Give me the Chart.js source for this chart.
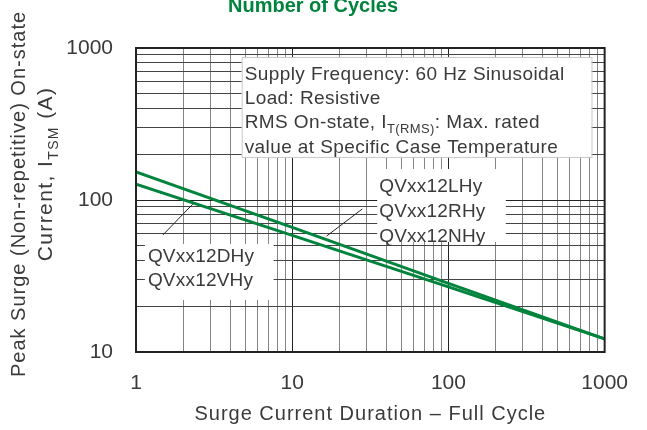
<!DOCTYPE html>
<html>
<head>
<meta charset="utf-8">
<script src="https://cdn.jsdelivr.net/npm/chart.js@4.4.1/dist/chart.umd.min.js"></script>
<style>
  html, body { margin: 0; padding: 0; background: #fff; }
  #wrap { width: 647px; height: 430px; }
</style>
</head>
<body>
<div id="wrap"><canvas id="surgeChart" width="647" height="430"></canvas></div>
<script>
// Data (log-log, straight lines)
const cycles = [1, 10, 100, 1000];
const currentLRN = [153, 66, 28.3, 12.2];   // QVxx12LHy / RHy / NHy
const currentDV = [127, 58.5, 26.8, 12.2];  // QVxx12DHy / VHy
const xTickLabels = ['1', '10', '100', '1000'];
const yTickLabels = ['10', '100', '1000'];

const GREEN = '#00843d';
const TEXT = '#3a3a3a';
const FONT = '"Liberation Sans", Arial, sans-serif';

// 1..9 per decade for the grid
function logTicks(min, max) {
    const out = [];
    for (let d = min; d < max; d *= 10) {
        for (let k = 1; k < 10; k++) out.push(d * k);
    }
    out.push(max);
    return out;
}

// draw text with subscript parts: [[text, isSub], ...]
function richText(ctx, parts, x, y, size, align, spacing) {
    const subSize = Math.round(size * 0.68);
    ctx.letterSpacing = (spacing || 0) + 'px';
    let total = 0;
    parts.forEach(p => {
        ctx.font = (p[1] ? subSize : size) + 'px ' + FONT;
        total += ctx.measureText(p[0]).width;
    });
    let cx = align === 'center' ? x - total / 2 : x;
    ctx.textAlign = 'left';
    ctx.textBaseline = 'alphabetic';
    parts.forEach(p => {
        ctx.font = (p[1] ? subSize : size) + 'px ' + FONT;
        ctx.fillText(p[0], cx, p[1] ? y + size * 0.28 : y);
        cx += ctx.measureText(p[0]).width;
    });
    ctx.letterSpacing = '0px';
}

const overlay = {
    id: 'overlay',
    beforeDatasetsDraw(chart) {
        const ctx = chart.ctx;
        const xs = chart.scales.x, ys = chart.scales.y;
        const px = v => xs.getPixelForValue(v);
        const py = v => ys.getPixelForValue(v);
        ctx.save();

        // conditions box
        let l = px(4.75), r = px(824), t = py(873), b = py(192);
        ctx.fillStyle = '#fff';
        ctx.fillRect(l, t, r - l, b - t);
        ctx.strokeStyle = '#c8c8c8';
        ctx.lineWidth = 1;
        ctx.strokeRect(l + 0.5, t + 0.5, r - l, b - t);
        ctx.fillStyle = TEXT;
        richText(ctx, [['Supply Frequency: 60 Hz Sinusoidal', false]], l + 3, t + 23, 19, 'left', 0.4);
        richText(ctx, [['Load: Resistive', false]], l + 3, t + 47, 19, 'left', 0.4);
        richText(ctx, [['RMS On-state, I', false], ['T(RMS)', true], [': Max. rated', false]], l + 3, t + 71, 19, 'left', 0.4);
        richText(ctx, [['value at Specific Case Temperature', false]], l + 3, t + 96, 19, 'left', 0.4);

        // part number labels
        l = px(35); r = px(233); t = py(160); b = py(52.9);
        ctx.fillStyle = '#fff';
        ctx.fillRect(l, t, r - l, b - t);
        ctx.fillStyle = TEXT;
        ['QVxx12LHy', 'QVxx12RHy', 'QVxx12NHy'].forEach((s, i) => {
            richText(ctx, [[s, false]], l + 2, t + 23 + i * 25, 19, 'left', 0.2);
        });

        l = px(1.14); r = px(7.6); t = py(51.4); b = py(22);
        ctx.fillStyle = '#fff';
        ctx.fillRect(l, t, r - l, b - t);
        ctx.fillStyle = TEXT;
        ['QVxx12DHy', 'QVxx12VHy'].forEach((s, i) => {
            richText(ctx, [[s, false]], l + 3, t + 18 + i * 24, 19, 'left', 0.2);
        });

        // leader lines
        ctx.strokeStyle = '#222';
        ctx.lineWidth = 1;
        ctx.beginPath();
        ctx.moveTo(px(1.487), py(58.9));
        ctx.lineTo(px(2.31), py(94));
        ctx.moveTo(px(16.6), py(57.9));
        ctx.lineTo(px(28.1), py(87.3));
        ctx.stroke();
        ctx.restore();
    },
    afterDraw(chart) {
        const ctx = chart.ctx;
        const a = chart.chartArea;
        ctx.save();
        // frame
        ctx.strokeStyle = '#222';
        ctx.lineWidth = 2;
        ctx.strokeRect(a.left, a.top, a.right - a.left, a.bottom - a.top);

        // title (cut off at top in the source image)
        ctx.fillStyle = GREEN;
        ctx.font = 'bold 20px ' + FONT;
        ctx.textAlign = 'center';
        ctx.textBaseline = 'alphabetic';
        ctx.fillText('Number of Cycles', 313, 12);

        // x axis title
        ctx.fillStyle = TEXT;
        richText(ctx, [['Surge Current Duration \u2013 Full Cycle', false]], (a.left + a.right) / 2, 420, 20, 'center', 1);

        // y axis title, two rotated lines
        ctx.save();
        ctx.translate(25, 194);
        ctx.rotate(-Math.PI / 2);
        richText(ctx, [['Peak Surge (Non-repetitive) On-state', false]], 0, 0, 20, 'center', 1.0);
        ctx.restore();
        ctx.save();
        ctx.translate(52, 174);
        ctx.rotate(-Math.PI / 2);
        richText(ctx, [['Current, I', false], ['TSM', true], [' (A)', false]], 0, 0, 21, 'center', 1.4);
        ctx.restore();
        ctx.restore();
    }
};

function gridColor(vertical) {
    return ctx => {
        const v = ctx.tick ? ctx.tick.value : 0;
        const major = Math.abs(Math.log10(v) - Math.round(Math.log10(v))) < 1e-6;
        if (major) return '#222';
        return vertical ? '#858585' : '#444';
    };
}

new Chart(document.getElementById('surgeChart'), {
    type: 'line',
    data: {
        datasets: [
            {
                label: 'QVxx12LHy / RHy / NHy',
                data: cycles.map((c, i) => ({ x: c, y: currentLRN[i] })),
                borderColor: GREEN,
                borderWidth: 3,
                pointRadius: 0,
                tension: 0
            },
            {
                label: 'QVxx12DHy / VHy',
                data: cycles.map((c, i) => ({ x: c, y: currentDV[i] })),
                borderColor: GREEN,
                borderWidth: 3,
                pointRadius: 0,
                tension: 0
            }
        ]
    },
    options: {
        responsive: false,
        animation: false,
        layout: { padding: { left: 0, right: 41, top: 48, bottom: 0 } },
        plugins: {
            legend: { display: false },
            tooltip: { enabled: false },
            title: { display: false }
        },
        scales: {
            x: {
                type: 'logarithmic',
                min: 1,
                max: 1000,
                afterBuildTicks: s => { s.ticks = logTicks(1, 1000).map(v => ({ value: v })); },
                afterFit: s => { s.height = 78; },
                border: { display: false },
                grid: { color: gridColor(true), lineWidth: 1, drawTicks: false },
                ticks: {
                    autoSkip: false,
                    maxRotation: 0,
                    padding: 19,
                    color: TEXT,
                    font: { family: FONT, size: 21 },
                    callback: v => {
                        const i = xTickLabels.indexOf(String(v));
                        return i >= 0 ? xTickLabels[i] : '';
                    }
                }
            },
            y: {
                type: 'logarithmic',
                min: 10,
                max: 1000,
                afterBuildTicks: s => { s.ticks = logTicks(10, 1000).map(v => ({ value: v })); },
                afterFit: s => { s.width = 136; },
                border: { display: false },
                grid: { color: gridColor(false), lineWidth: 1, drawTicks: false },
                ticks: {
                    autoSkip: false,
                    padding: 23,
                    color: TEXT,
                    font: { family: FONT, size: 21 },
                    callback: v => {
                        const i = yTickLabels.indexOf(String(v));
                        return i >= 0 ? yTickLabels[i] : '';
                    }
                }
            }
        }
    },
    plugins: [overlay]
});
</script>
</body>
</html>
